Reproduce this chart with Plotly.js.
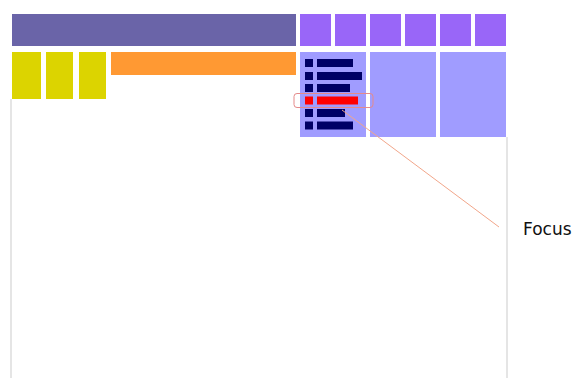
<!DOCTYPE html>
<html>
<head>
<meta charset="utf-8">
<script src="https://cdn.plot.ly/plotly-3.0.1.min.js"></script>
<style>html,body{margin:0;padding:0;background:#fff;}#chart{width:574px;height:378px;}</style>
</head>
<body>
<div id="chart"></div>
<script>
// Header row: one wide block followed by six small blocks
const headerX0 = [12, 300, 335, 370, 405, 440, 475];
const headerX1 = [296, 331, 366, 401, 436, 471, 506];
const headerColors = ['#6a64a8', '#9966f8', '#9966f8', '#9966f8', '#9966f8', '#9966f8', '#9966f8'];
const headerTop = 14, headerBottom = 46;

// Second row, left: three yellow blocks and an orange bar
const yellowX0 = [12, 46, 79];
const yellowX1 = [41, 73, 106];
const yellowTop = 52, yellowBottom = 99;
const orangeX0 = [111];
const orangeX1 = [296];
const orangeTop = 52, orangeBottom = 75;

// Second row, right: three light blue panels
const panelX0 = [300, 370, 440];
const panelX1 = [366, 436, 506];
const panelTop = 52, panelBottom = 137;

// Items in the first panel (rows), with the focused one highlighted
const itemRows = [63, 76, 88, 100.5, 113, 125.5];
const itemEnds = [353, 362, 350, 358, 345, 353];
const itemStart = 317;
const itemMarkX0 = 305, itemMarkX1 = 313;
const focusIndex = 3;

// Callout
const calloutText = 'Focus';
const calloutLineX = [342, 499];
const calloutLineY = [110, 227];
const calloutTextPos = [521, 229];

// Frame
const frameX = [11, 507];
const frameTop = [99, 137];
const frameBottom = 378;

function rectTrace(x0s, x1s, top, bottom, colors) {
  return {
    type: 'bar',
    x: x0s.map((v, i) => (v + x1s[i]) / 2),
    width: x0s.map((v, i) => x1s[i] - v),
    base: x0s.map(() => top),
    y: x0s.map(() => bottom - top),
    marker: {color: colors, line: {width: 0}},
    hoverinfo: 'skip'
  };
}

const traces = [];
// frame lines
frameX.forEach((fx, i) => {
  traces.push({type: 'scatter', mode: 'lines', x: [fx, fx], y: [frameTop[i], frameBottom],
    line: {color: '#dcdcdc', width: 1.5}, hoverinfo: 'skip'});
});
traces.push(rectTrace(headerX0, headerX1, headerTop, headerBottom, headerColors));
traces.push(rectTrace(yellowX0, yellowX1, yellowTop, yellowBottom, yellowX0.map(() => '#dcd400')));
traces.push(rectTrace(orangeX0, orangeX1, orangeTop, orangeBottom, ['#ff9933']));
traces.push(rectTrace(panelX0, panelX1, panelTop, panelBottom, panelX0.map(() => '#a09cff')));

const itemColors = itemRows.map((r, i) => i === focusIndex ? '#ff0000' : '#000066');
// item marks (small squares)
traces.push({
  type: 'bar', orientation: 'h',
  y: itemRows, x: itemRows.map(() => itemMarkX1 - itemMarkX0), base: itemRows.map(() => itemMarkX0),
  width: itemRows.map(() => 8),
  marker: {color: itemColors, line: {width: 0}}, hoverinfo: 'skip'
});
// item bars
traces.push({
  type: 'bar', orientation: 'h',
  y: itemRows, x: itemEnds.map(e => e - itemStart), base: itemRows.map(() => itemStart),
  width: itemRows.map(() => 8),
  marker: {color: itemColors, line: {width: 0}}, hoverinfo: 'skip'
});
// callout line
traces.push({type: 'scatter', mode: 'lines', x: calloutLineX, y: calloutLineY,
  line: {color: '#f2a68a', width: 1}, hoverinfo: 'skip'});

// highlight rounded rectangle around focused row
const fy = itemRows[focusIndex];
const hx0 = 294, hx1 = 373, hy0 = fy - 7, hy1 = fy + 7, rr = 3;
const hlPath = `M ${hx0 + rr},${hy0} L ${hx1 - rr},${hy0} Q ${hx1},${hy0} ${hx1},${hy0 + rr} L ${hx1},${hy1 - rr} Q ${hx1},${hy1} ${hx1 - rr},${hy1} L ${hx0 + rr},${hy1} Q ${hx0},${hy1} ${hx0},${hy1 - rr} L ${hx0},${hy0 + rr} Q ${hx0},${hy0} ${hx0 + rr},${hy0} Z`;

const layout = {
  width: 574, height: 378,
  margin: {l: 0, r: 0, t: 0, b: 0},
  paper_bgcolor: '#ffffff', plot_bgcolor: '#ffffff',
  barmode: 'overlay',
  showlegend: false,
  xaxis: {range: [0, 574], visible: false, fixedrange: true},
  yaxis: {range: [378, 0], visible: false, fixedrange: true},
  shapes: [{type: 'path', xref: 'x', yref: 'y', path: hlPath,
    line: {color: '#e58a8a', width: 1}, fillcolor: 'rgba(0,0,0,0)'}],
  annotations: [{x: calloutTextPos[0], y: calloutTextPos[1], xref: 'x', yref: 'y',
    text: calloutText, showarrow: false, xanchor: 'left', yanchor: 'middle',
    font: {family: 'DejaVu Sans, sans-serif', size: 17, color: '#111111'}}]
};

Plotly.newPlot('chart', traces, layout, {displayModeBar: false, staticPlot: true});
</script>
</body>
</html>
